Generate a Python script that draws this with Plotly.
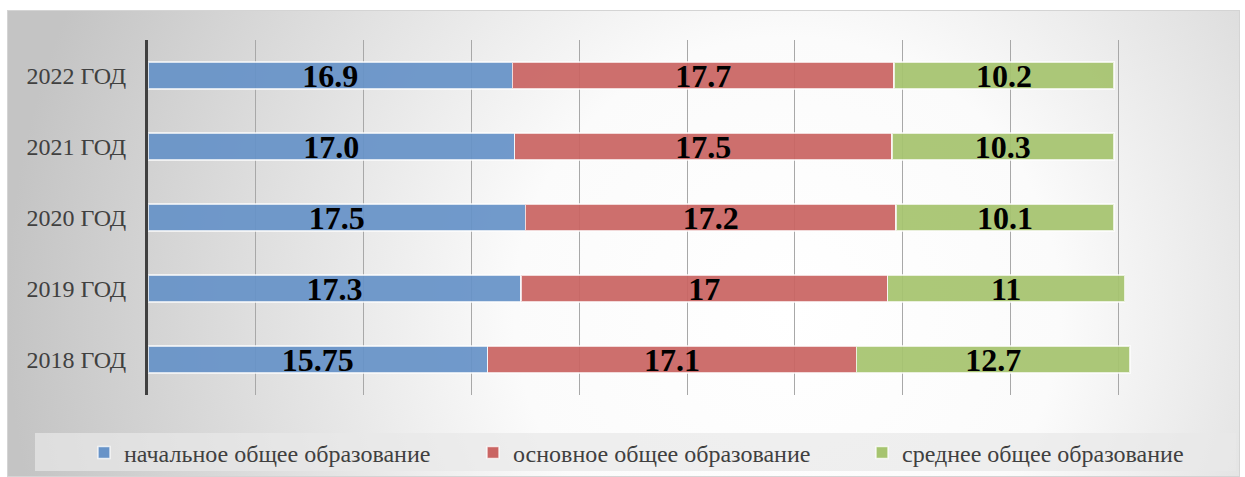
import base64
import plotly.graph_objects as go

categories = ["2018 ГОД", "2019 ГОД", "2020 ГОД", "2021 ГОД", "2022 ГОД"]
series_names = ["начальное общее образование", "основное общее образование", "среднее общее образование"]
primary = [15.75, 17.3, 17.5, 17.0, 16.9]
basic = [17.1, 17.0, 17.2, 17.5, 17.7]
secondary = [12.7, 11.0, 10.1, 10.3, 10.2]
primary_labels = ["15.75", "17.3", "17.5", "17.0", "16.9"]
basic_labels = ["17.1", "17", "17.2", "17.5", "17.7"]
secondary_labels = ["12.7", "11", "10.1", "10.3", "10.2"]
colors = ["#6793C8", "#CA6563", "#A6C46F"]

W, H = 1245, 477
L, R, T, B = 148, 19, 40, 82
pw, ph = W - L - R, H - T - B
SERIF = "Liberation Serif, DejaVu Serif, serif"

def px_x(x):
    return (x - L) / pw

def px_y(y):
    return (H - B - y) / ph

fig = go.Figure()
for name, vals, labs, col in zip(series_names, [primary, basic, secondary],
                                 [primary_labels, basic_labels, secondary_labels], colors):
    fig.add_trace(go.Bar(
        y=categories, x=vals, name=name, orientation="h",
        text=labs, textposition="inside", insidetextanchor="middle",
        constraintext="none", textangle=0,
        textfont=dict(family=SERIF, size=32, color="black", weight="bold"),
        marker=dict(color=col, opacity=0.93, line=dict(color="rgba(255,255,255,0.75)", width=1.5)),
    ))

# background radial gradient frame
fx0, fy0, fx1, fy1 = 7, 10, 1240, 477
fw, fh = fx1 - fx0, fy1 - fy0
svg = f'''<svg xmlns="http://www.w3.org/2000/svg" width="{fw}" height="{fh}" viewBox="0 0 {fw} {fh}" preserveAspectRatio="none">
<defs><radialGradient id="g" gradientUnits="userSpaceOnUse" cx="780" cy="300" r="780">
<stop offset="0" stop-color="#ffffff"/><stop offset="0.35" stop-color="#fbfbfb"/><stop offset="1" stop-color="#c4c4c4"/></radialGradient></defs>
<rect x="0" y="0" width="{fw}" height="{fh}" fill="url(#g)" stroke="#d4d4d4" stroke-width="2"/></svg>'''
src = "data:image/svg+xml;base64," + base64.b64encode(svg.encode()).decode()

fig.update_layout(
    width=W, height=H,
    font=dict(family=SERIF, color="#404040"),
    barmode="stack", bargap=0.62,
    margin=dict(l=L, r=R, t=T, b=B, pad=0, autoexpand=False),
    paper_bgcolor="white", plot_bgcolor="rgba(0,0,0,0)",
    images=[dict(source=src, xref="paper", yref="paper",
                 x=px_x(fx0), y=px_y(fy0), sizex=fw / pw, sizey=fh / ph,
                 xanchor="left", yanchor="top", sizing="stretch", layer="below")],
    shapes=[dict(type="rect", xref="paper", yref="paper",
                 x0=px_x(35), x1=px_x(1236), y0=px_y(471), y1=px_y(433),
                 fillcolor="rgba(232,232,232,0.7)", line=dict(width=0), layer="below")],
    xaxis=dict(range=[0, 50], dtick=5, showgrid=True, gridcolor="#a8a8a8", gridwidth=1,
               showticklabels=False, zeroline=False, showline=False, fixedrange=True),
    yaxis=dict(showline=True, linecolor="#404040", linewidth=3, showgrid=False,
               ticks="", ticklabelstandoff=14, fixedrange=True,
               tickfont=dict(family=SERIF, size=24, color="#404040")),
    legend=dict(orientation="h", traceorder="normal", x=px_x(84), xanchor="left",
                y=px_y(453), yanchor="middle",
                bgcolor="rgba(0,0,0,0)", entrywidth=344, entrywidthmode="pixels",
                font=dict(family=SERIF, size=24, color="#404040")),
    showlegend=True,
)
fig.write_html("out.html", config={"displayModeBar": False},
               post_script="document.body.style.margin='0';document.body.style.padding='0';")
